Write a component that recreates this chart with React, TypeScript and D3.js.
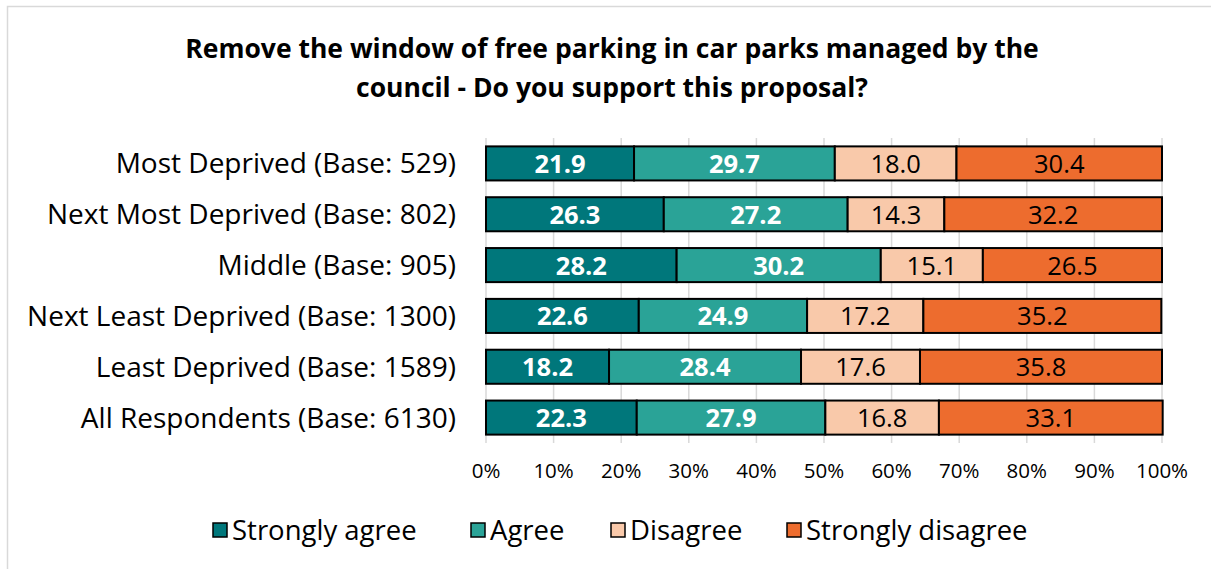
import * as d3 from 'd3';

const categories = [
  'Most Deprived (Base: 529)',
  'Next Most Deprived (Base: 802)',
  'Middle (Base: 905)',
  'Next Least Deprived (Base: 1300)',
  'Least Deprived (Base: 1589)',
  'All Respondents (Base: 6130)'
];
const seriesNames = ['Strongly agree', 'Agree', 'Disagree', 'Strongly disagree'];
const stronglyAgree = [21.9, 26.3, 28.2, 22.6, 18.2, 22.3];
const agree = [29.7, 27.2, 30.2, 24.9, 28.4, 27.9];
const disagree = [18.0, 14.3, 15.1, 17.2, 17.6, 16.8];
const stronglyDisagree = [30.4, 32.2, 26.5, 35.2, 35.8, 33.1];
const ticks = [0, 10, 20, 30, 40, 50, 60, 70, 80, 90, 100];
const colors = ['#00777b', '#2aa397', '#f9c9aa', '#ed6c2e'];
const textColors = ['#ffffff', '#ffffff', '#000000', '#000000'];

const FONT = '"Open Sans", sans-serif';

const App = () => {
  const width = 1211;
  const height = 569;
  const x = d3.scaleLinear().domain([0, 100]).range([486, 1162]);
  const y = d3.scaleBand<string>().domain(categories).range([138, 443]).paddingInner(0.33).paddingOuter(0.165);

  const rows = categories.map((c, i) => ({
    cat: c,
    values: [stronglyAgree[i], agree[i], disagree[i], stronglyDisagree[i]]
  }));
  const stack = d3.stack<any, number>().keys([0, 1, 2, 3]).value((d, k) => d.values[k]);
  const stacked = stack(rows as any);

  const legendX = [213, 471, 611, 787];

  return (
    <svg width={width} height={height} style={{ position: 'absolute', left: 0, top: 0 }}>
      <rect x={0} y={0} width={width} height={height} fill="#fff" />
      <rect x={7.5} y={6.5} width={1220} height={600} fill="none" stroke="#d9d9d9" strokeWidth={1.5} />
      <g fontFamily={FONT} fontWeight="bold" fontSize={26.5} textAnchor="middle" fill="#000">
        <text x={612} y={58}>Remove the window of free parking in car parks managed by the</text>
        <text x={612} y={97}>council - Do you support this proposal?</text>
      </g>
      {ticks.map(t => (
        <line key={t} x1={x(t)} x2={x(t)} y1={138} y2={443} stroke="#d9d9d9" strokeWidth={1.5} />
      ))}
      {ticks.map(t => (
        <text key={'l' + t} x={x(t)} y={478} textAnchor="middle" fontFamily={FONT} fontSize={20.5} fill="#000">{t}%</text>
      ))}
      {stacked.map((s, si) => (
        <g key={si}>
          {s.map((d, i) => {
            const x0 = x(d[0]);
            const x1 = x(d[1]);
            const yy = y(categories[i])!;
            return (
              <g key={i}>
                <rect x={x0} y={yy} width={x1 - x0} height={y.bandwidth()} fill={colors[si]} stroke="#000" strokeWidth={2} />
                <text x={(x0 + x1) / 2} y={yy + y.bandwidth() / 2 + 9.5} textAnchor="middle" fontFamily={FONT}
                  fontSize={25.5} fontWeight={si < 2 ? 'bold' : 'normal'} fill={textColors[si]}>
                  {(d[1] - d[0]).toFixed(1)}
                </text>
              </g>
            );
          })}
        </g>
      ))}
      {categories.map(c => (
        <text key={c} x={456} y={y(c)! + y.bandwidth() / 2 + 10} textAnchor="end" fontFamily={FONT} fontSize={28} fill="#000">{c}</text>
      ))}
      {seriesNames.map((n, i) => (
        <g key={n}>
          <rect x={legendX[i]} y={523} width={14} height={14} fill={colors[i]} stroke="#000" strokeWidth={1.5} />
          <text x={legendX[i] + 19} y={540} fontFamily={FONT} fontSize={27.5} fill="#000">{n}</text>
        </g>
      ))}
    </svg>
  );
};

export default App;
